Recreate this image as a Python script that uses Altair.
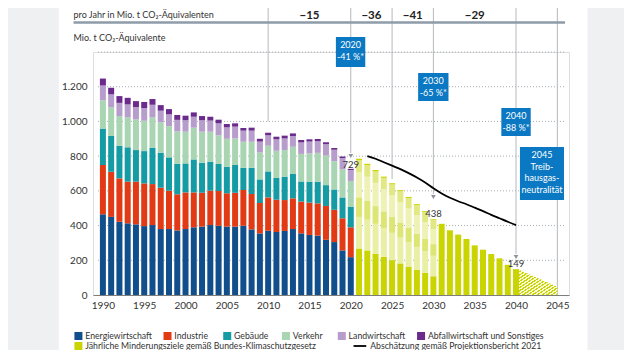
import altair as alt
import pandas as pd

# ---------------- data ----------------
years_hist = list(range(1990, 2021))
energie = [465,450,422,413,407,397,403,380,380,372, 380,390,394,403,399,394,394,399,378,355,
           370,363,369,380,355,346,342,318,305,257, 218]
industrie = [284,260,250,240,246,246,236,238,221,208, 211,201,195,198,200,192,195,206,204,175,
             192,186,178,177,183,186,186,195,186,185, 172]
gebaeude = [210,206,188,198,182,186,210,202,192,175, 167,190,173,167,156,153,160,128,151,136,
            150,125,135,140,116,121,124,120,117,120, 117]
verkehr = [163,165,171,172,177,175,174,175,180,188, 183,183,179,173,166,161,153,150,150,155,
           148,157,153,157,159,163,167,170,163,163, 150]
landw = [85,75,76,75,71,73,73,67,68,66, 66,63,66,64,68,66,68,64,64,63,
         60,66,67,62,66,68,67,66,66,64, 63]
abfall = [40,38,39,38,34,35,33,32,30,28, 26,25,24,22,21,19,19,15,17,16,
          15,15,16,15,14,13,13,11,10,9, 7]

years_ksg = list(range(2021, 2031))
ksg_energie = [268,257,238,220,201,182,164,145,127,108]
ksg_industrie = [182,177,172,165,157,149,140,132,125,118]
ksg_gebaeude = [113,108,102,97,92,87,82,77,72,67]
ksg_verkehr = [145,139,134,128,123,117,112,105,96,85]
ksg_landw = [68,67,66,65,64,63,61,60,58,56]
ksg_abfall = [9,8,8,7,7,6,6,5,5,4]

years_goal = list(range(2031, 2041))
goal_total = [410,373,348,323,286,261,236,211,174,149]

hatch_years = [2040.36, 2045]
hatch_values = [146, 48]

proj_years = list(range(2022, 2041))
proj_values = [800,785,765,745,725,702,677,648,615,585,560,540,523,503,483,462,442,422,403]

sector_names = ["Energiewirtschaft", "Industrie", "Gebäude", "Verkehr",
                "Landwirtschaft", "Abfallwirtschaft und Sonstiges"]
sector_colors = ["#114f8c", "#e23a14", "#149ba3", "#a9d5b2", "#b79dcb", "#6b2b8d"]
ksg_names = ["KSG " + n for n in sector_names]
ksg_colors = ["#c9d400", "#eaefa6", "#dde573", "#eef2b5", "#e2e984", "#c9d400"]
goal_name = "Ziel"
goal_color = "#c9d400"

period_marks = [2010, 2020, 2025, 2030, 2040, 2045]
period_line_ends = [1000, 818, 668, 582, 236, 0]
period_mid = [2015, 2022.5, 2027.5, 2035]
period_change = ["\u221215", "\u221236", "\u221241", "\u221229"]

marker_years = [2020, 2030, 2040]
marker_values = [801, 565, 219]
marker_labels = ["729", "438", "149"]
marker_label_values = [749, 467, 179]

box_texts = ["2020\n-41 %*", "2030\n-65 %*", "2040\n-88 %*", "2045\nTreib-\nhausgas-\nneutralität"]

# ---------------- layout helpers ----------------
PL, PT, W, H = 93, 52, 476, 243
SVG_W, SVG_H = 616, 342
KX = 8.44
XMIN = 1990 - (98 - PL) / KX
XMAX = XMIN + W / KX
YMAX = 1400
FONT = "Liberation Sans Narrow, Lato, sans-serif"


def yr(px):
    return XMIN + (px - PL) / KX


def vl(py):
    return (PT + H - py) * YMAX / H


xs = alt.Scale(domain=[XMIN, XMAX], nice=False, zero=False)
ys = alt.Scale(domain=[0, YMAX], nice=False, zero=False)

X_AXIS = alt.Axis(values=list(range(1990, 2046, 5)), format="d", grid=False, ticks=False,
                  domainColor="#7d7d7d", domainWidth=1, labelPadding=5, labelFontSize=10,
                  labelColor="#333333", labelFont=FONT, title=None)
Y_AXIS = alt.Axis(values=[0, 200, 400, 600, 800, 1000, 1200], grid=False, ticks=False,
                  domain=False, labelPadding=6, labelFontSize=10, labelColor="#333333",
                  labelFont=FONT, title=None,
                  labelExpr="replace(format(datum.value, ','), ',', '.')")


def X(f, **kw):
    return alt.X(f, type="quantitative", scale=xs, axis=X_AXIS, **kw)


def Y(f, **kw):
    return alt.Y(f, type="quantitative", scale=ys, axis=Y_AXIS, **kw)


# ---------------- tables ----------------
rows = []
for i, vals in enumerate([energie, industrie, gebaeude, verkehr, landw, abfall]):
    for y, v in zip(years_hist, vals):
        rows.append({"year": y, "value": v, "cat": sector_names[i], "idx": i})
for i, vals in enumerate([ksg_energie, ksg_industrie, ksg_gebaeude, ksg_verkehr, ksg_landw, ksg_abfall]):
    for y, v in zip(years_ksg, vals):
        rows.append({"year": y, "value": v, "cat": ksg_names[i], "idx": i})
for y, v in zip(years_goal, goal_total):
    rows.append({"year": y, "value": v, "cat": goal_name, "idx": 0})
bars_df = pd.DataFrame(rows)

color_scale = alt.Scale(domain=sector_names + ksg_names + [goal_name],
                        range=sector_colors + ksg_colors + [goal_color])

# background strips
strips = pd.DataFrame({"x": [yr(0), yr(593)], "x2": [yr(53), yr(650)],
                       "y": [vl(0), vl(0)], "y2": [vl(400), vl(400)]})
strip_layer = alt.Chart(strips).mark_rect(color="#eef0f2").encode(
    x=X("x"), x2="x2", y=Y("y"), y2="y2")

# grid
grid_df = pd.DataFrame({"v": [200, 400, 600, 800, 1000, 1200, 1400], "a": XMIN, "b": XMAX})
grid_layer = alt.Chart(grid_df).mark_rule(color="#a9adb2", strokeDash=[1, 2], strokeWidth=1).encode(
    x=X("a"), x2="b", y=Y("v"))

# vertical period lines
vdf = pd.DataFrame({"year": period_marks, "top": 1800, "end": period_line_ends})
vline_layer = alt.Chart(vdf).mark_rule(color="#b4b8bd", strokeWidth=1).encode(
    x=X("year"), y=Y("top"), y2="end")

# bars
bar_layer = alt.Chart(bars_df).mark_bar(size=6).encode(
    x=X("year"),
    y=Y("value", stack="zero"),
    color=alt.Color("cat:N", scale=color_scale, legend=None),
    order=alt.Order("idx:Q"),
)

# hatched transition area 2040-2045
n = 16
stops = []
for i in range(n):
    a, b, c = i / n, (i + 0.55) / n, (i + 1) / n
    stops += [alt.GradientStop(color="#f6f8d8", offset=a), alt.GradientStop(color="#f6f8d8", offset=b),
              alt.GradientStop(color="#c9d400", offset=b), alt.GradientStop(color="#c9d400", offset=c)]
hatch_df = pd.DataFrame({"year": hatch_years, "value": hatch_values})
hatch_layer = alt.Chart(hatch_df).mark_area(
    color=alt.LinearGradient(gradient="linear", stops=stops, x1=0, y1=0, x2=1, y2=1)
).encode(x=X("year"), y=Y("value"))

# projection line
proj_df = pd.DataFrame({"year": proj_years, "value": proj_values})
proj_layer = alt.Chart(proj_df).mark_line(color="black", strokeWidth=1.8, interpolate="monotone").encode(
    x=X("year"), y=Y("value"))

# markers
mk_df = pd.DataFrame({"year": marker_years, "v": marker_values, "lab": marker_labels, "lv": marker_label_values})
tri_layer = alt.Chart(mk_df).mark_point(shape="triangle-down", filled=True, size=22, color="#8c9298",
                                        opacity=1).encode(x=X("year"), y=Y("v"))
mklab_layer = alt.Chart(mk_df).mark_text(fontSize=9.5, color="#333333", font=FONT).encode(
    x=X("year"), y=Y("lv"), text="lab:N")

# blue boxes
box_df = pd.DataFrame({
    "x": [yr(336), yr(420), yr(505), yr(524)],
    "x2": [yr(366), yr(451), yr(535), yr(569)],
    "y": [vl(37), vl(73), vl(108), vl(147)],
    "y2": [vl(67), vl(101), vl(136), vl(200)],
    "ty": [vl(41), vl(77), vl(112), vl(151)],
    "txt": box_texts,
})
box_df["cx"] = (box_df["x"] + box_df["x2"]) / 2
box_layer = alt.Chart(box_df).mark_rect(color="#0a78c2").encode(x=X("x"), x2="x2", y=Y("y"), y2="y2")
boxtxt_layer = alt.Chart(box_df).mark_text(color="white", fontSize=9, lineBreak="\n", lineHeight=11.5,
                                           font=FONT, baseline="top").encode(
    x=X("cx"), y=Y("ty"), text="txt:N")

# header
hdr_df = pd.DataFrame({"year": period_mid, "lab": period_change, "v": vl(15.5)})
hdr_layer = alt.Chart(hdr_df).mark_text(fontSize=11.5, fontWeight="bold", color="#222222", font=FONT).encode(
    x=X("year"), y=Y("v"), text="lab:N")
hrule_df = pd.DataFrame({"a": [yr(68)], "b": [yr(570)], "v": [vl(22.5)]})
hrule_layer = alt.Chart(hrule_df).mark_rule(color="#8e9ba8", strokeWidth=2.5).encode(
    x=X("a"), x2="b", y=Y("v"))
titles_df = pd.DataFrame({"x": [yr(68), yr(68)], "y": [vl(15), vl(38)],
                          "t": ["pro Jahr in Mio. t CO₂-Äquivalenten", "Mio. t CO₂-Äquivalente"]})
titles_layer = alt.Chart(titles_df).mark_text(align="left", fontSize=9, color="#333333", font=FONT).encode(
    x=X("x"), y=Y("y"), text="t:N")

# legend
leg_items = sector_names + ["Jährliche Minderungsziele gemäß Bundes-Klimaschutzgesetz"]
leg_cols = sector_colors + [goal_color]
leg_px = [73, 164, 225, 285, 342, 423, 73]
leg_py = [336, 336, 336, 336, 336, 336, 346]
leg_df = pd.DataFrame({"x": [yr(p) for p in leg_px], "tx": [yr(p + 7) for p in leg_px],
                       "y": [vl(p) for p in leg_py], "lab": leg_items, "col": leg_cols})
legsq_layer = alt.Chart(leg_df).mark_square(size=64, opacity=1).encode(
    x=X("x"), y=Y("y"), color=alt.Color("col:N", scale=None, legend=None))
legtx_layer = alt.Chart(leg_df).mark_text(align="left", fontSize=8.7, color="#333333", font=FONT).encode(
    x=X("tx"), y=Y("y"), text="lab:N")
legline_df = pd.DataFrame({"a": [yr(354)], "b": [yr(367)], "v": [vl(346)], "tx": [yr(371)],
                           "lab": ["Abschätzung gemäß Projektionsbericht 2021"]})
legline_layer = alt.Chart(legline_df).mark_rule(color="black", strokeWidth=1.8).encode(
    x=X("a"), x2="b", y=Y("v"))
legline_tx = alt.Chart(legline_df).mark_text(align="left", fontSize=8.7, color="#333333", font=FONT).encode(
    x=X("tx"), y=Y("v"), text="lab:N")

chart = alt.layer(
    strip_layer, grid_layer, vline_layer, bar_layer, hatch_layer, proj_layer,
    tri_layer, mklab_layer, box_layer, boxtxt_layer, hdr_layer, hrule_layer, titles_layer,
    legsq_layer, legtx_layer, legline_layer, legline_tx,
).properties(
    width=W, height=H,
    autosize=alt.AutoSizeParams(type="none"),
    padding={"left": PL - 8, "top": PT - 8, "right": SVG_W - (PL - 8) - W,
             "bottom": SVG_H - (PT - 8) - H},
    background="white",
).configure_view(stroke=None).configure(font=FONT)

chart.save("out.html", embed_options={"renderer": "svg", "actions": False})
